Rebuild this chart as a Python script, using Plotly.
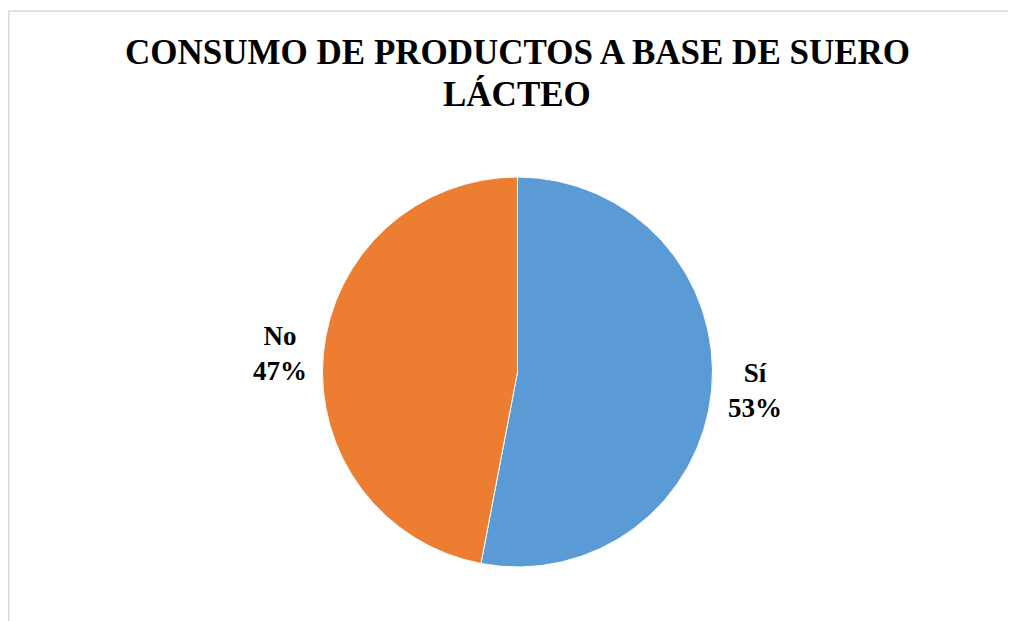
import plotly.graph_objects as go

categories = ["Sí", "No"]
values = [53, 47]
colors = ["#5B9BD5", "#ED7D31"]
title_lines = ["CONSUMO DE PRODUCTOS A BASE DE SUERO", "LÁCTEO"]

W, H = 1016, 621
OFF = 8  # page body margin offset
cx, cy, r = 517.5 - OFF, 372 - OFF, 195
SERIF = "Liberation Serif, Times New Roman, DejaVu Serif, serif"

fig = go.Figure(go.Pie(
    labels=categories,
    values=values,
    sort=False,
    direction="clockwise",
    rotation=0,
    marker=dict(colors=colors, line=dict(color="white", width=1)),
    texttemplate="<b>%{label}<br>%{percent:.0%}</b>",
    textposition="outside",
    textfont=dict(family=SERIF, size=27, color="black"),
    showlegend=False,
    hoverinfo="label+percent",
    automargin=False,
    domain=dict(x=[(cx - 480) / W, (cx + 480) / W], y=[1 - (cy + r) / H, 1 - (cy - r) / H]),
))

title_centers = [52.5 - OFF, 94.5 - OFF]
annotations = [
    dict(text="<b>%s</b>" % t, xref="paper", yref="paper",
         x=(517 - OFF) / W, y=1 - yc / H, xanchor="center", yanchor="middle",
         showarrow=False, font=dict(family=SERIF, size=35, color="black"))
    for t, yc in zip(title_lines, title_centers)
]

fig.update_layout(
    width=W, height=H,
    margin=dict(l=0, r=0, t=0, b=0, autoexpand=False),
    paper_bgcolor="white",
    annotations=annotations,
    shapes=[dict(type="rect", xref="paper", yref="paper",
                 x0=0.8 / W, x1=1.01, y0=-0.01, y1=1 - 3 / H,
                 line=dict(color="#d9d9d9", width=1.5))],
)

fig.write_html("out.html")
